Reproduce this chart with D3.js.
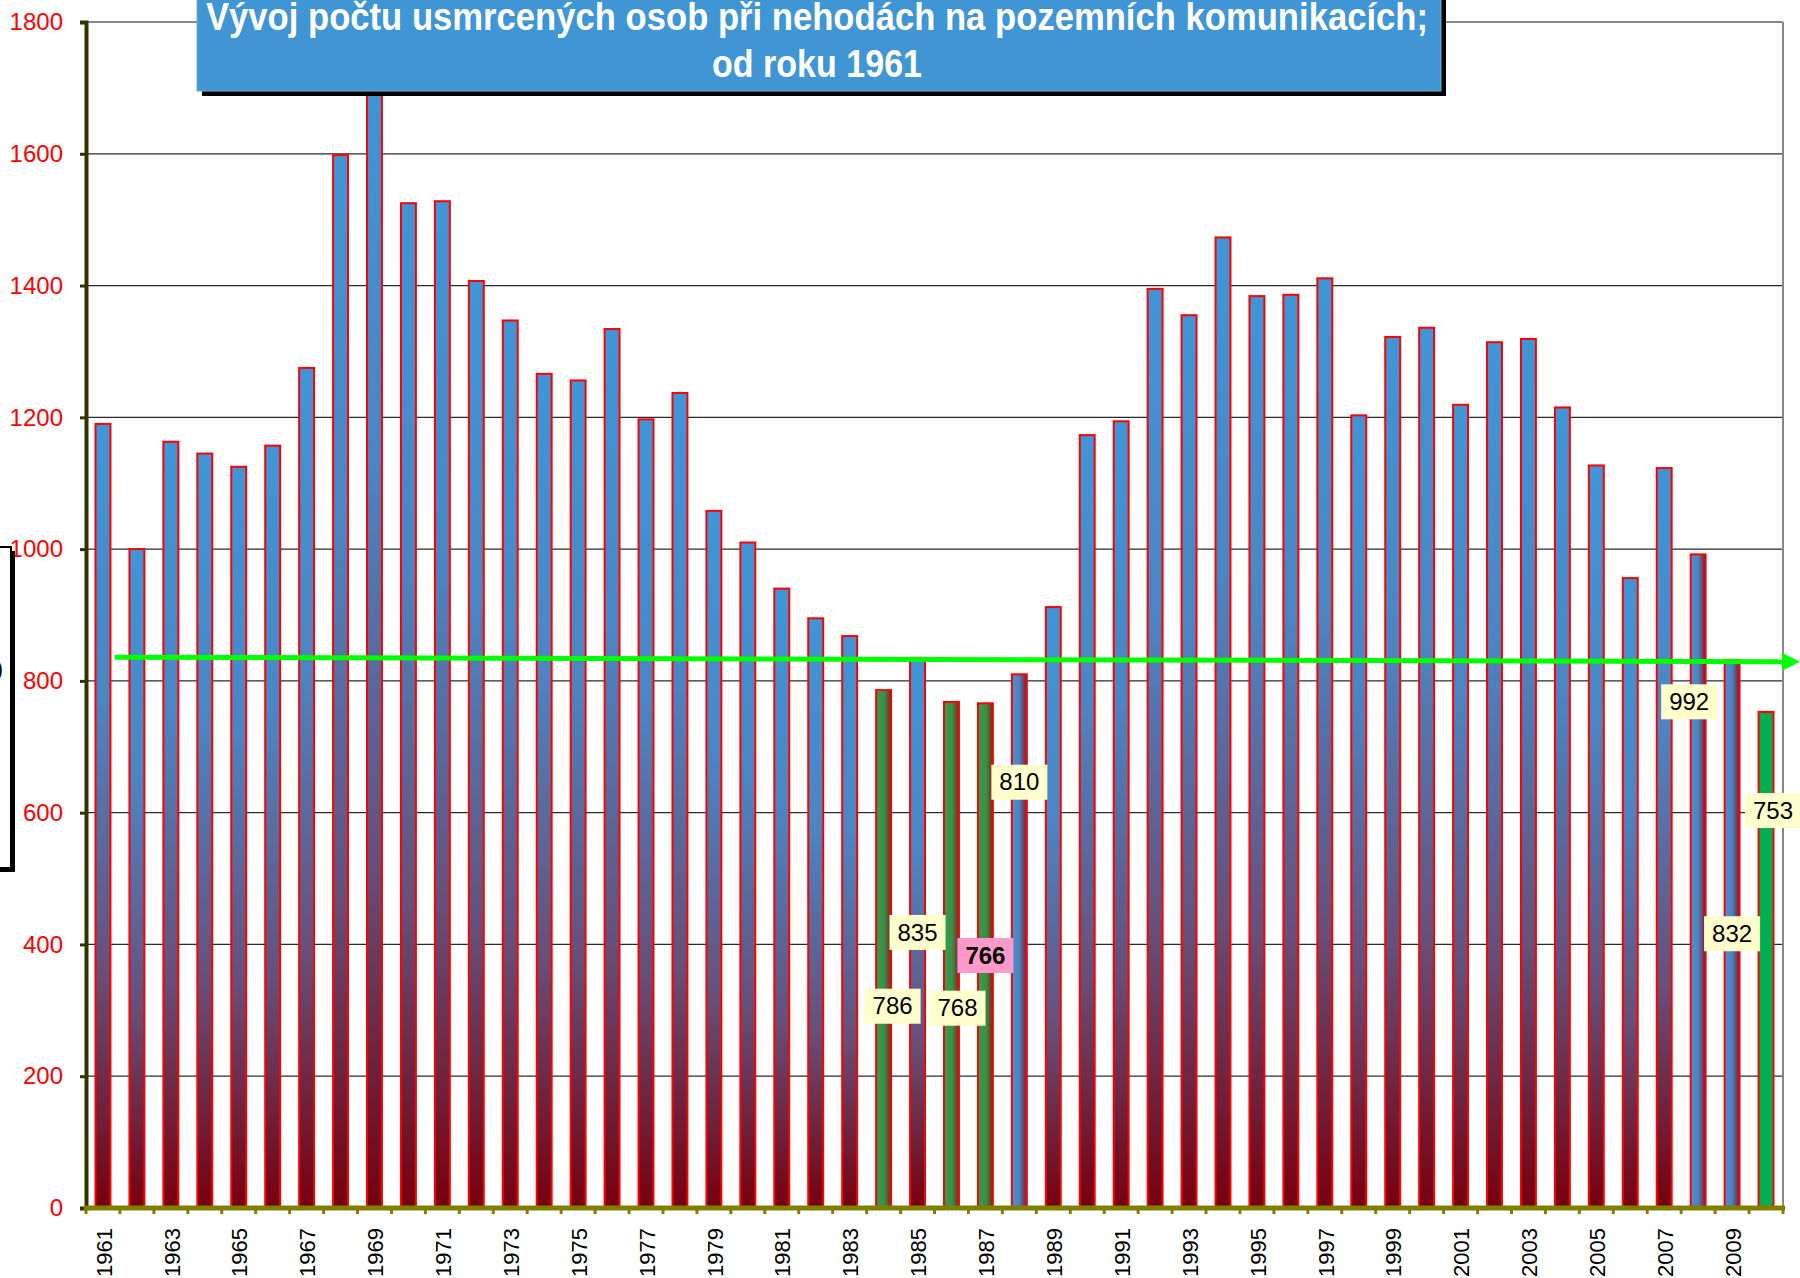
<!DOCTYPE html>
<html>
<head>
<meta charset="utf-8">
<script src="https://cdn.jsdelivr.net/npm/d3@7"></script>
<style>
  body { margin: 0; background: #fff; }
  svg { display: block; font-family: 'Liberation Sans', Arial, sans-serif; }
</style>
</head>
<body>
<div class="chart"></div>
<script>
// road fatalities in CZ, 1961-2010
var years = d3.range(1961, 2011)
var deaths = [
    1190, 1000, 1163, 1145, 1125, 1157, 1275, 1598, 1758, 1525,
    1528, 1407, 1347, 1266, 1256, 1334, 1197, 1237, 1058, 1010,
    940, 895, 868, 786, 835, 768, 766, 810, 912, 1173,
    1194, 1395, 1355, 1473, 1384, 1386, 1411, 1203, 1322, 1336,
    1219, 1314, 1319, 1215, 1127, 956, 1123, 992, 832, 753
]
var yTicks = [0, 200, 400, 600, 800, 1000, 1200, 1400, 1600, 1800]
var labelYears = [1984, 1985, 1986, 1987, 1988, 2008, 2009, 2010]
var trendYears = [1961.35, 2011]
var trendValues = [836, 829]
var titleLines = ['Vývoj počtu usmrcených osob při nehodách na pozemních komunikacích;', 'od roku 1961']

// label placement (px offset from bar centre, y as value on the axis)
var labelDx = [9, 0, 6, 0, 0, -9, 0, 7]
var labelAt = [307, 419, 304, 384, 647, 769, 417, 604]

var fillFor = {
    1984: 'url(#gGreenH)', 1986: 'url(#gGreenH)', 1987: 'url(#gGreenH)',
    1988: 'url(#gBlueH)', 2008: 'url(#gBlueH)', 2009: 'url(#gBlueH)',
    2010: '#00b050'
}

var svgWidth = 1800
var svgHeight = 1278
var margin = { top: 22, bottom: 70, right: 17, left: 86 }
var width = svgWidth - margin.left - margin.right
var height = svgHeight - margin.top - margin.bottom

var svg = d3.select('.chart')
    .append('svg')
    .attr('width', svgWidth)
    .attr('height', svgHeight)

var defs = svg.append('defs')
function grad(id, horiz, stops) {
    var g = defs.append('linearGradient').attr('id', id)
        .attr('x1', 0).attr('y1', 0)
        .attr('x2', horiz ? 1 : 0).attr('y2', horiz ? 0 : 1)
    stops.forEach(s => g.append('stop').attr('offset', s[0]).attr('stop-color', s[1]))
}
grad('gBlue', false, [[0, '#3f96d7'], [0.35, '#4c85c3'], [0.7, '#674f78'], [1, '#76000e']])
grad('gBlueH', true, [[0, '#4493d3'], [0.5, '#4f82bd'], [1, '#7a1830']])
grad('gGreenH', true, [[0, '#2f9e4c'], [0.55, '#3d8f48'], [1, '#7c2424']])

var chartGroup = svg.append('g')
    .attr('transform', `translate(${margin.left}, ${margin.top})`)

var x = d3.scaleBand()
    .domain(years)
    .range([0, width])
    .paddingInner(0.56)
    .paddingOuter(0.28)
var y = d3.scaleLinear()
    .domain([0, 1800])
    .range([height, 0])
var xc = d3.scaleLinear()
    .domain([1961, 2010])
    .range([x(1961) + x.bandwidth() / 2, x(2010) + x.bandwidth() / 2])

// gridlines
chartGroup.append('g')
    .selectAll('line')
    .data(yTicks.filter(d => d > 0))
    .enter().append('line')
    .attr('x1', 0).attr('x2', width)
    .attr('y1', d => y(d)).attr('y2', d => y(d))
    .attr('stroke', d => d == 1800 ? '#888' : '#2a2a2a')
    .attr('stroke-width', d => d == 1800 ? 2 : 1.2)
chartGroup.append('line')
    .attr('x1', width).attr('x2', width)
    .attr('y1', 0).attr('y2', height)
    .attr('stroke', '#888').attr('stroke-width', 2)

// bars
chartGroup.append('g')
    .selectAll('rect')
    .data(years)
    .enter().append('rect')
    .attr('x', d => x(d))
    .attr('width', x.bandwidth())
    .attr('y', (d, i) => y(deaths[i]))
    .attr('height', (d, i) => height - y(deaths[i]))
    .attr('fill', d => fillFor[d] || 'url(#gBlue)')
    .attr('stroke', '#ff0000')
    .attr('stroke-width', 2)

// y axis
var yAxis = chartGroup.append('g')
    .call(d3.axisLeft(y).tickValues(yTicks).tickFormat(d3.format('d')).tickSize(6).tickPadding(17))
yAxis.select('.domain').attr('stroke', '#333300').attr('stroke-width', 4)
yAxis.selectAll('.tick line').attr('stroke', '#333300').attr('stroke-width', 3)
yAxis.selectAll('.tick text')
    .attr('fill', '#ff0000')
    .attr('font-size', '24px')
    .attr('font-family', "'Liberation Sans', Arial, sans-serif")

// x axis
var xAxis = chartGroup.append('g')
    .attr('transform', `translate(0, ${height})`)
xAxis.append('line')
    .attr('x1', -2).attr('x2', width + 2)
    .attr('stroke', '#808000').attr('stroke-width', 5)
xAxis.selectAll('.xt')
    .data(d3.range(years.length + 1))
    .enter().append('line')
    .attr('class', 'xt')
    .attr('x1', d => d * x.step()).attr('x2', d => d * x.step())
    .attr('y1', 0).attr('y2', 6)
    .attr('stroke', '#808000').attr('stroke-width', 3)
xAxis.selectAll('text')
    .data(years.filter(d => (d - 1961) % 2 == 0))
    .enter().append('text')
    .attr('transform', d => `translate(${xc(d) + 1}, 20) rotate(-90)`)
    .attr('text-anchor', 'end')
    .attr('dy', '0.35em')
    .attr('font-size', '22px')
    .attr('fill', '#000')
    .text(d => d)

// trend arrow
var t0 = [xc(trendYears[0]), y(trendValues[0])]
var t1 = [xc(trendYears[1]), y(trendValues[1])]
chartGroup.append('line')
    .attr('x1', t0[0]).attr('y1', t0[1])
    .attr('x2', t1[0] - 14).attr('y2', t1[1])
    .attr('stroke', '#00ff00')
    .attr('stroke-width', 5)
chartGroup.append('path')
    .attr('d', `M${t1[0]},${t1[1]} L${t1[0] - 18},${t1[1] - 9} L${t1[0] - 18},${t1[1] + 9} Z`)
    .attr('fill', '#00ff00')

// data labels
var lab = chartGroup.append('g')
    .selectAll('g')
    .data(labelYears)
    .enter().append('g')
    .attr('transform', (d, i) => `translate(${xc(d) + labelDx[i]}, ${y(labelAt[i])})`)
lab.append('rect')
    .attr('x', -28).attr('y', -17)
    .attr('width', 56).attr('height', 35)
    .attr('fill', d => d == 1987 ? '#ff99cc' : '#ffffcc')
lab.append('text')
    .attr('text-anchor', 'middle')
    .attr('dy', '0.36em')
    .attr('font-size', '24px')
    .attr('font-weight', d => d == 1987 ? 'bold' : 'normal')
    .text(d => deaths[years.indexOf(d)])

// partial box at the left edge
svg.append('rect')
    .attr('x', -16).attr('y', 551).attr('width', 31).attr('height', 321)
    .attr('fill', '#000')
svg.append('rect')
    .attr('x', -20).attr('y', 547).attr('width', 31).attr('height', 321)
    .attr('fill', '#fff').attr('stroke', '#000').attr('stroke-width', 2)
svg.append('text')
    .attr('x', 3).attr('y', 676)
    .attr('text-anchor', 'end')
    .attr('font-size', '22px')
    .text(')')

// title
svg.append('rect')
    .attr('x', 202).attr('y', -30).attr('width', 1244).attr('height', 126)
    .attr('fill', '#000')
svg.append('rect')
    .attr('x', 197).attr('y', -35).attr('width', 1244).attr('height', 126)
    .attr('fill', '#4095d5').attr('stroke', '#7fa9cf').attr('stroke-width', 1)
svg.append('g')
    .selectAll('text')
    .data(titleLines)
    .enter().append('text')
    .attr('x', 817)
    .attr('y', (d, i) => 30 + i * 47)
    .attr('text-anchor', 'middle')
    .attr('fill', '#fff')
    .attr('font-size', '38px')
    .attr('font-weight', 'bold')
    .attr('font-family', "'Liberation Sans Narrow', 'Arial Narrow', 'Liberation Sans', sans-serif")
    .attr('textLength', (d, i) => i == 0 ? 1222 : 210)
    .attr('lengthAdjust', 'spacingAndGlyphs')
    .text(d => d)
</script>
</body>
</html>
